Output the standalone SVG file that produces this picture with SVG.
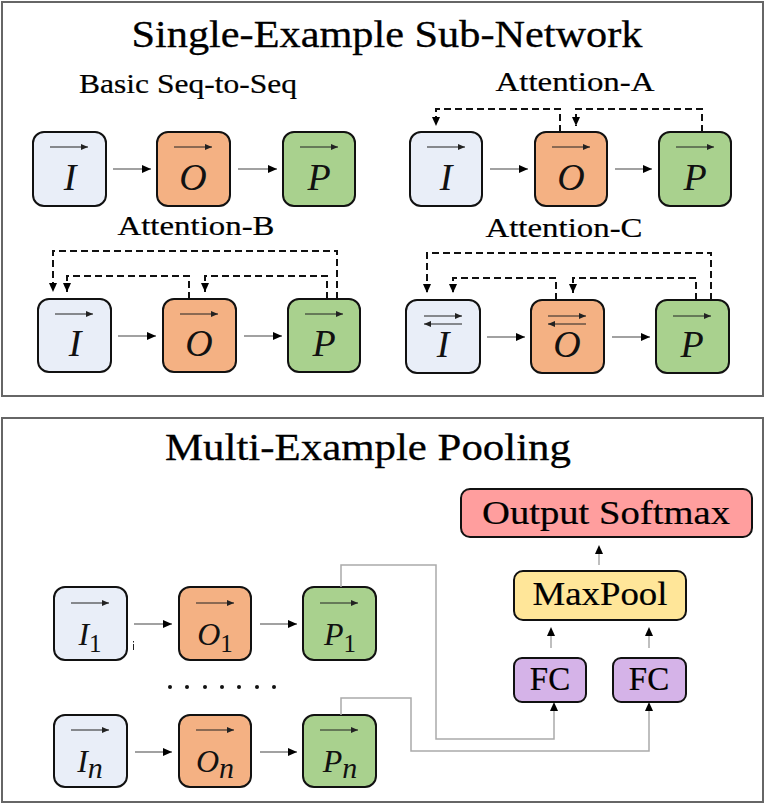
<svg xmlns="http://www.w3.org/2000/svg" width="766" height="805" viewBox="0 0 766 805">
<style>
.panel{fill:#fff;stroke:#666;stroke-width:2}
.box{stroke:#111;stroke-width:2}
.i{fill:#E9EEF8}.o{fill:#F4B183}.p{fill:#A9D18E}
.sm{fill:#FF9E9E}.mp{fill:#FFE699}.fc{fill:#D5B3E8}
.title{font-family:"Liberation Serif",serif;font-size:38px;fill:#000;stroke:#000;stroke-width:0.3}
.sub{font-family:"Liberation Serif",serif;font-size:27px;fill:#000;stroke:#000;stroke-width:0.2}
.lbl{font-family:"Liberation Serif",serif;font-size:33px;fill:#000;stroke:#000;stroke-width:0.2}
.var{font-family:"Liberation Serif",serif;font-style:italic;font-size:38px;fill:#111}
.var2{font-family:"Liberation Serif",serif;font-style:italic;font-size:32px;fill:#111}
.one{font-family:"Liberation Serif",serif;font-style:normal;font-size:25px}
.en{font-family:"Liberation Serif",serif;font-style:italic;font-size:30px}
.flow{stroke:#444;stroke-width:1.2;fill:none}
.vec{stroke:#222;stroke-width:1;fill:none}
.dash{stroke:#111;stroke-width:2;stroke-dasharray:7,4;fill:none}
.gray{stroke:#aaa;stroke-width:1.5;fill:none}
</style>
<defs>
<marker id="ah" markerUnits="userSpaceOnUse" markerWidth="10" markerHeight="10" refX="9" refY="4" orient="auto"><path d="M0,0 L9,4 L0,8 Z" fill="#000"/></marker>
<marker id="vh" markerUnits="userSpaceOnUse" markerWidth="8" markerHeight="6" refX="7" refY="3" orient="auto"><path d="M0,0 L7,3 L0,6 Z" fill="#222"/></marker>
</defs>

<rect class="panel" x="2" y="2" width="761" height="394"/>
<rect class="panel" x="2" y="418" width="761" height="384"/>

<text class="title" x="387" y="47" text-anchor="middle" textLength="511" lengthAdjust="spacingAndGlyphs">Single-Example Sub-Network</text>
<text class="sub" x="188" y="93" text-anchor="middle" textLength="218" lengthAdjust="spacingAndGlyphs">Basic Seq-to-Seq</text>
<text class="sub" x="575" y="91" text-anchor="middle" textLength="159" lengthAdjust="spacingAndGlyphs">Attention-A</text>
<text class="sub" x="196" y="235" text-anchor="middle" textLength="157" lengthAdjust="spacingAndGlyphs">Attention-B</text>
<text class="sub" x="564" y="237" text-anchor="middle" textLength="157" lengthAdjust="spacingAndGlyphs">Attention-C</text>
<text class="title" x="368" y="460" text-anchor="middle" textLength="406" lengthAdjust="spacingAndGlyphs">Multi-Example Pooling</text>

<!-- Basic -->
<g id="basic-I"><rect class="box i" x="33" y="132" width="73" height="74" rx="11"/><line class="vec" x1="50" y1="147" x2="88" y2="147" marker-end="url(#vh)"/><text class="var" x="70" y="190" text-anchor="middle">I</text></g>
<g id="basic-O"><rect class="box o" x="157" y="132" width="73" height="74" rx="11"/><line class="vec" x1="174" y1="147" x2="212" y2="147" marker-end="url(#vh)"/><text class="var" x="193" y="190" text-anchor="middle">O</text></g>
<g id="basic-P"><rect class="box p" x="283" y="132" width="72" height="74" rx="11"/><line class="vec" x1="300" y1="147" x2="338" y2="147" marker-end="url(#vh)"/><text class="var" x="319" y="190" text-anchor="middle">P</text></g>

<!-- Attention-A -->
<g id="a-I"><rect class="box i" x="410" y="132" width="72" height="74" rx="11"/><line class="vec" x1="427" y1="147" x2="465" y2="147" marker-end="url(#vh)"/><text class="var" x="446" y="190" text-anchor="middle">I</text></g>
<g id="a-O"><rect class="box o" x="535" y="132" width="72" height="74" rx="11"/><line class="vec" x1="552" y1="147" x2="590" y2="147" marker-end="url(#vh)"/><text class="var" x="571" y="190" text-anchor="middle">O</text></g>
<g id="a-P"><rect class="box p" x="659" y="132" width="72" height="74" rx="11"/><line class="vec" x1="676" y1="147" x2="714" y2="147" marker-end="url(#vh)"/><text class="var" x="695" y="190" text-anchor="middle">P</text></g>

<!-- Attention-B -->
<g id="b-I"><rect class="box i" x="38" y="299" width="73" height="73" rx="11"/><line class="vec" x1="55" y1="314" x2="93" y2="314" marker-end="url(#vh)"/><text class="var" x="75" y="356" text-anchor="middle">I</text></g>
<g id="b-O"><rect class="box o" x="163" y="299" width="73" height="73" rx="11"/><line class="vec" x1="180" y1="314" x2="218" y2="314" marker-end="url(#vh)"/><text class="var" x="199" y="356" text-anchor="middle">O</text></g>
<g id="b-P"><rect class="box p" x="288" y="299" width="72" height="73" rx="11"/><line class="vec" x1="305" y1="314" x2="343" y2="314" marker-end="url(#vh)"/><text class="var" x="324" y="356" text-anchor="middle">P</text></g>

<!-- Attention-C -->
<g id="c-I"><rect class="box i" x="406" y="300" width="74" height="73" rx="11"/><line class="vec" x1="424" y1="316" x2="462" y2="316" marker-end="url(#vh)"/><line class="vec" x1="462" y1="324" x2="424" y2="324" marker-end="url(#vh)"/><text class="var" x="443" y="357" text-anchor="middle">I</text></g>
<g id="c-O"><rect class="box o" x="531" y="300" width="73" height="73" rx="11"/><line class="vec" x1="548" y1="316" x2="586" y2="316" marker-end="url(#vh)"/><line class="vec" x1="586" y1="324" x2="548" y2="324" marker-end="url(#vh)"/><text class="var" x="567" y="357" text-anchor="middle">O</text></g>
<g id="c-P"><rect class="box p" x="656" y="300" width="73" height="73" rx="11"/><line class="vec" x1="673" y1="316" x2="711" y2="316" marker-end="url(#vh)"/><text class="var" x="692" y="357" text-anchor="middle">P</text></g>

<!-- Multi-example -->
<g id="m-I1"><rect class="box i" x="54" y="587" width="73" height="73" rx="11"/><line class="vec" x1="71" y1="603" x2="109" y2="603" marker-end="url(#vh)"/><text class="var2" x="90" y="645" text-anchor="middle">I<tspan class="one" dy="7">1</tspan></text></g>
<g id="m-O1"><rect class="box o" x="179" y="587" width="72" height="73" rx="11"/><line class="vec" x1="196" y1="603" x2="234" y2="603" marker-end="url(#vh)"/><text class="var2" x="215" y="645" text-anchor="middle">O<tspan class="one" dy="7">1</tspan></text></g>
<g id="m-P1"><rect class="box p" x="303" y="587" width="73" height="73" rx="11"/><line class="vec" x1="320" y1="603" x2="358" y2="603" marker-end="url(#vh)"/><text class="var2" x="340" y="645" text-anchor="middle">P<tspan class="one" dy="7">1</tspan></text></g>
<g id="m-In"><rect class="box i" x="54" y="715" width="73" height="72" rx="11"/><line class="vec" x1="71" y1="730" x2="109" y2="730" marker-end="url(#vh)"/><text class="var2" x="90" y="772" text-anchor="middle">I<tspan class="en" dy="6">n</tspan></text></g>
<g id="m-On"><rect class="box o" x="179" y="715" width="72" height="72" rx="11"/><line class="vec" x1="196" y1="730" x2="234" y2="730" marker-end="url(#vh)"/><text class="var2" x="215" y="772" text-anchor="middle">O<tspan class="en" dy="6">n</tspan></text></g>
<g id="m-Pn"><rect class="box p" x="303" y="715" width="73" height="72" rx="11"/><line class="vec" x1="320" y1="730" x2="358" y2="730" marker-end="url(#vh)"/><text class="var2" x="340" y="772" text-anchor="middle">P<tspan class="en" dy="6">n</tspan></text></g>

<g id="dots" fill="#111"><circle cx="170" cy="687" r="2"/><circle cx="187" cy="687" r="2"/><circle cx="205" cy="687" r="2"/><circle cx="222" cy="687" r="2"/><circle cx="239" cy="687" r="2"/><circle cx="257" cy="687" r="2"/><circle cx="274" cy="687" r="2"/></g>

<g id="softmax"><rect class="box sm" x="461" y="489" width="291" height="48" rx="9"/><text class="lbl" x="606" y="524" text-anchor="middle" textLength="248" lengthAdjust="spacingAndGlyphs">Output Softmax</text></g>
<g id="maxpool"><rect class="box mp" x="514" y="571" width="172" height="49" rx="9"/><text class="lbl" x="600" y="605" text-anchor="middle" textLength="135" lengthAdjust="spacingAndGlyphs">MaxPool</text></g>
<g id="fc1"><rect class="box fc" x="514" y="658" width="72" height="44" rx="8"/><text class="lbl" x="550" y="690" text-anchor="middle">FC</text></g>
<g id="fc2"><rect class="box fc" x="613" y="658" width="73" height="44" rx="8"/><text class="lbl" x="649" y="690" text-anchor="middle">FC</text></g>

<g id="connectors">
<line class="flow" x1="113" y1="169" x2="151" y2="169" marker-end="url(#ah)"/>
<line class="flow" x1="238" y1="169" x2="277" y2="169" marker-end="url(#ah)"/>
<line class="flow" x1="490" y1="169" x2="528" y2="169" marker-end="url(#ah)"/>
<line class="flow" x1="615" y1="169" x2="652" y2="169" marker-end="url(#ah)"/>
<path class="dash" d="M560,132 V109 H436 V126" marker-end="url(#ah)"/>
<path class="dash" d="M702,132 V109 H576 V126" marker-end="url(#ah)"/>

<line class="flow" x1="118" y1="336" x2="156" y2="336" marker-end="url(#ah)"/>
<line class="flow" x1="244" y1="336" x2="282" y2="336" marker-end="url(#ah)"/>
<path class="dash" d="M337,299 V251 H53 V292" marker-end="url(#ah)"/>
<path class="dash" d="M327,299 V276 H205 V292" marker-end="url(#ah)"/>
<path class="dash" d="M189,299 V276 H67 V292" marker-end="url(#ah)"/>

<line class="flow" x1="487" y1="337" x2="525" y2="337" marker-end="url(#ah)"/>
<line class="flow" x1="612" y1="337" x2="650" y2="337" marker-end="url(#ah)"/>
<path class="dash" d="M711,300 V253 H427 V293" marker-end="url(#ah)"/>
<path class="dash" d="M696,300 V278 H573 V293" marker-end="url(#ah)"/>
<path class="dash" d="M556,300 V278 H453 V293" marker-end="url(#ah)"/>

<line class="flow" x1="134" y1="624" x2="172" y2="624" marker-end="url(#ah)"/>
<line class="flow" x1="260" y1="624" x2="297" y2="624" marker-end="url(#ah)"/>
<line class="flow" x1="135" y1="752" x2="172" y2="752" marker-end="url(#ah)"/>
<line class="flow" x1="260" y1="752" x2="297" y2="752" marker-end="url(#ah)"/>
<line x1="133.5" y1="644" x2="133.5" y2="650" stroke="#222" stroke-width="1"/>
<line x1="133.5" y1="641" x2="133.5" y2="642.5" stroke="#222" stroke-width="1"/>

<path class="gray" d="M341,587 V565 H436 V739 H554 V709"/>
<path class="gray" d="M341,715 V698 H411 V751 H649 V709"/>
<path d="M554,702 L550,711 L558,711 Z" fill="#000"/>
<path d="M649,702 L645,711 L653,711 Z" fill="#000"/>
<line class="gray" x1="551" y1="648" x2="551" y2="630"/>
<path d="M551,627 L547,636 L555,636 Z" fill="#000"/>
<line class="gray" x1="649" y1="648" x2="649" y2="630"/>
<path d="M649,627 L645,636 L653,636 Z" fill="#000"/>
<line class="gray" x1="599" y1="565" x2="599" y2="548"/>
<path d="M599,545 L595,554 L603,554 Z" fill="#000"/>
</g>
</svg>
